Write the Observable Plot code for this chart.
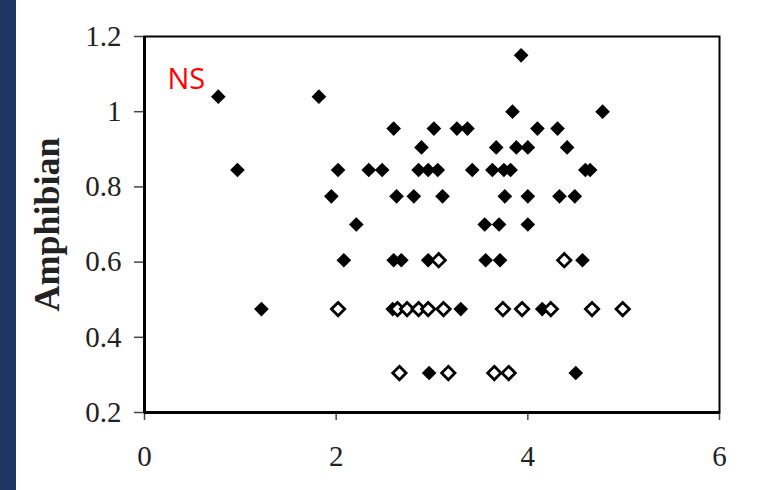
<!DOCTYPE html>
<html>
<head>
<meta charset="utf-8">
<script src="https://cdn.jsdelivr.net/npm/d3@7"></script>
<script src="https://cdn.jsdelivr.net/npm/@observablehq/plot@0.6"></script>
<style>
  html, body { margin: 0; padding: 0; background: #fff; }
  #wrap { position: relative; width: 784px; height: 490px; overflow: hidden; }
  #band { position: absolute; left: 0; top: 0; width: 16px; height: 490px; background: #1e3461; }
  #chart { position: absolute; left: 0; top: 0; }
  #chart g[aria-label="x-axis tick label"],
  #chart g[aria-label="y-axis tick label"] {
    font-size: 29px;
    font-family: 'Liberation Serif', 'Times New Roman', serif;
  }
</style>
</head>
<body>
<div id="wrap"><div id="band"></div><div id="chart"></div></div>
<script>
// Filled diamonds
const filledX = [0.77, 1.82, 3.93, 3.84, 4.78,
  2.60, 3.02, 3.26, 3.37, 4.10, 4.31,
  2.89, 3.67, 3.88, 4.00, 4.41,
  0.97, 2.02, 2.34, 2.48, 2.86, 2.96, 3.06, 3.42, 3.63, 3.75, 3.82, 4.60, 4.65,
  1.95, 2.63, 2.81, 3.11, 3.76, 4.00, 4.33, 4.49,
  2.21, 3.55, 3.70, 4.00,
  2.08, 2.60, 2.68, 2.96, 3.56, 3.71, 4.57,
  1.22, 2.59, 3.30, 4.15,
  2.97, 4.50];
const filledY = [1.04, 1.04, 1.15, 1.0, 1.0,
  0.955, 0.955, 0.955, 0.955, 0.955, 0.955,
  0.905, 0.905, 0.905, 0.905, 0.905,
  0.845, 0.845, 0.845, 0.845, 0.845, 0.845, 0.845, 0.845, 0.845, 0.845, 0.845, 0.845, 0.845,
  0.775, 0.775, 0.775, 0.775, 0.775, 0.775, 0.775, 0.775,
  0.70, 0.70, 0.70, 0.70,
  0.605, 0.605, 0.605, 0.605, 0.605, 0.605, 0.605,
  0.475, 0.475, 0.475, 0.475,
  0.305, 0.305];

// Open diamonds
const openX = [3.07, 4.38,
  2.02, 2.64, 2.74, 2.86, 2.96, 3.12, 3.74, 3.94, 4.24, 4.67, 4.99,
  2.66, 3.17, 3.65, 3.80];
const openY = [0.605, 0.605,
  0.475, 0.475, 0.475, 0.475, 0.475, 0.475, 0.475, 0.475, 0.475, 0.475, 0.475,
  0.305, 0.305, 0.305, 0.305];

const xTicks = [0, 2, 4, 6];
const yTicks = [0.2, 0.4, 0.6, 0.8, 1, 1.2];
const yTitle = "Amphibian";
const note = "NS";

const filled = filledX.map((x, i) => ({x, y: filledY[i]}));
const open = openX.map((x, i) => ({x, y: openY[i]}));

const serif = "'Liberation Serif', 'Times New Roman', serif";
const fmt = d => String(+d.toFixed(1));

const chart = Plot.plot({
  width: 784,
  height: 490,
  marginLeft: 144,
  marginRight: 65,
  marginTop: 36,
  marginBottom: 78,
  style: {fontFamily: serif, fontSize: "29px", color: "#222", background: "transparent"},
  x: {domain: [0, 6]},
  y: {domain: [0.2, 1.2]},
  marks: [
    Plot.axisX({ticks: xTicks, tickFormat: fmt, tickSize: 8, tickPadding: 25, label: null,
      stroke: "#444", strokeWidth: 1.5, fill: "#222"}),
    Plot.axisY({ticks: yTicks, tickFormat: fmt, tickSize: 10, tickPadding: 13, label: null,
      stroke: "#444", strokeWidth: 1.5, fill: "#222"}),
    Plot.frame({stroke: "black", strokeWidth: 2}),
    Plot.ruleX([0], {stroke: "black", strokeWidth: 3}),
    Plot.ruleY([0.2], {stroke: "black", strokeWidth: 3}),
    Plot.dot(filled, {x: "x", y: "y", symbol: "diamond2", r: 6.6, fill: "black", stroke: "none"}),
    Plot.dot(open, {x: "x", y: "y", symbol: "diamond2", r: 6, fill: "white", stroke: "black", strokeWidth: 2.8}),
    Plot.text([yTitle], {frameAnchor: "left", textAnchor: "middle", rotate: -90, dx: -97, fontWeight: "bold",
      fontSize: 36, fontFamily: serif, fill: "#222"}),
    Plot.text([note], {frameAnchor: "top-left", textAnchor: "start", lineAnchor: "bottom", dx: 23, dy: 52, fontSize: 29,
      fontFamily: "'Open Sans', 'Noto Sans', sans-serif", fill: "#ff0000"})
  ]
});

document.getElementById("chart").appendChild(chart);
</script>
</body>
</html>
